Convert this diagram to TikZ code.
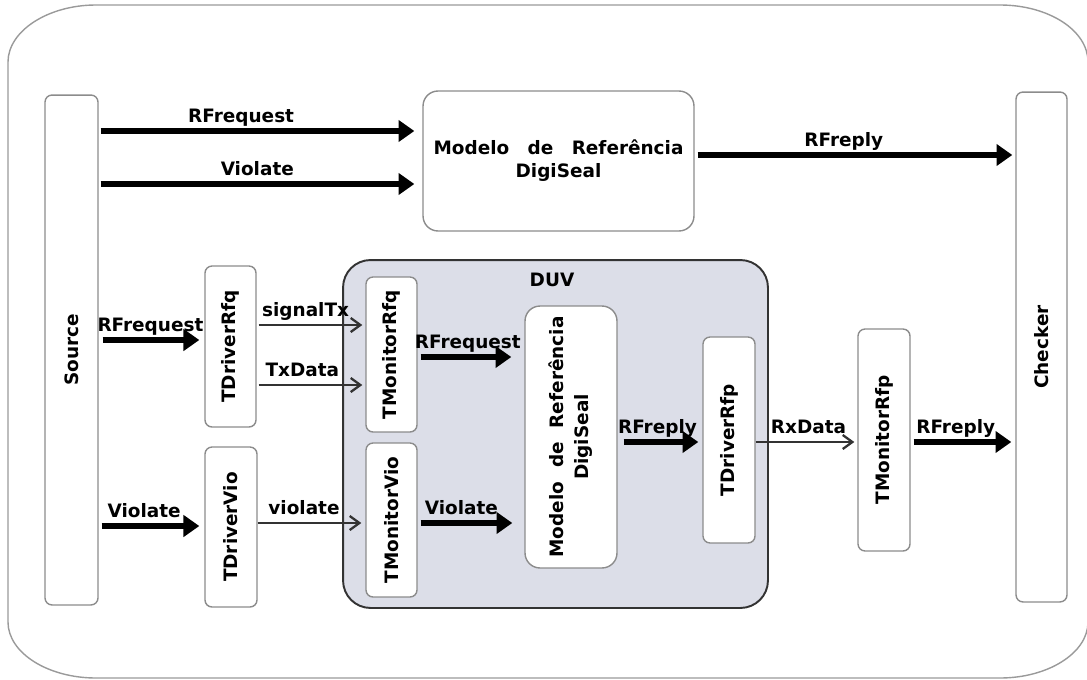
\documentclass[tikz,border=0pt]{standalone}
\usepackage{fontspec}
\setmainfont{DejaVu Sans}
\usetikzlibrary{arrows.meta}
\definecolor{boxline}{HTML}{8C8C8C}
\definecolor{frameline}{HTML}{9A9A9A}
\definecolor{duvfill}{HTML}{DCDEE8}
\definecolor{duvline}{HTML}{333333}
\definecolor{thinline}{HTML}{333333}

\begin{document}
\begin{tikzpicture}[x=0.02cm,y=-0.02cm,
  font=\fontsize{10.5}{13}\selectfont\bfseries,
  box/.style={draw=boxline, line width=0.8pt, fill=white, rounded corners=0.14cm, inner sep=0pt},
  bigarrow/.style={line width=3.6pt, -{Triangle[length=9pt,width=12pt]}},
  thinarrow/.style={draw=thinline, line width=1.3pt, -{Straight Barb[length=5.5pt,width=8pt]}},
  lbl/.style={anchor=base, yshift=5pt, inner sep=0pt},
]
\useasboundingbox (0,0) rectangle (1087,679);

% outer environment frame
\draw[frameline, line width=0.8pt]
  (96,5) -- (1000,5) .. controls (1048,5) and (1088,30) .. (1088,62)
  -- (1088,622) .. controls (1088,653) and (1048,678) .. (1000,678)
  -- (96,678) .. controls (48,678) and (8,653) .. (8,622)
  -- (8,62) .. controls (8,31) and (48,5) .. (96,5) -- cycle;

% DUV container
\node[draw=duvline, line width=1.1pt, fill=duvfill, rounded corners=0.55cm,
      minimum width=8.5cm, minimum height=6.96cm] (duv) at (555.5,434) {};
\node (duvtxt) at (552,280) {DUV};

% blocks
\node[box, minimum width=1.06cm, minimum height=10.2cm] (src) at (71.5,350) {\rotatebox{90}{Source}};
\node[box, minimum width=1.02cm, minimum height=10.2cm] (chk) at (1041.5,347) {\rotatebox{90}{Checker}};
\node[box, rounded corners=0.3cm, minimum width=5.42cm, minimum height=2.8cm, align=center] (refTop) at (558.5,161)
  {\makebox[5cm][s]{Modelo de Referência}\\DigiSeal};
\node[box, minimum width=1.02cm, minimum height=3.22cm] (drvRfq) at (230.5,346.5) {\rotatebox{90}{TDriverRfq}};
\node[box, minimum width=1.04cm, minimum height=3.2cm] (drvVio) at (231,527) {\rotatebox{90}{TDriverVio}};
\node[box, minimum width=1.02cm, minimum height=3.1cm] (monRfq) at (391.5,354.5) {\rotatebox{90}{TMonitorRfq}};
\node[box, minimum width=1.02cm, minimum height=3.08cm] (monVio) at (391.5,520) {\rotatebox{90}{TMonitorVio}};
\node[box, rounded corners=0.3cm, minimum width=1.84cm, minimum height=5.24cm] (refIn) at (571,437)
  {\rotatebox{90}{\fontsize{10.5}{14}\selectfont\begin{tabular}{@{}c@{}}\makebox[4.82cm][s]{Modelo de Referência}\\DigiSeal\end{tabular}}};
\node[box, minimum width=1.04cm, minimum height=4.12cm] (drvRfp) at (729,440) {\rotatebox{90}{TDriverRfp}};
\node[box, minimum width=1.04cm, minimum height=4.44cm] (monRfp) at (884,440) {\rotatebox{90}{TMonitorRfp}};

% arrow rows
\coordinate (rA) at (0,131);
\coordinate (rB) at (0,184);
\coordinate (rC) at (0,155);
\coordinate (rD) at (0,340);
\coordinate (rE) at (0,325);
\coordinate (rF) at (0,385);
\coordinate (rG) at (0,526);
\coordinate (rH) at (0,523);
\coordinate (rI) at (0,357);
\coordinate (rJ) at (0,442);

% connectors
\draw[bigarrow, shorten <=0.04cm, shorten >=0.16cm] (src.east |- rA) -- node[lbl, pos=0.44] (lA) {RFrequest} (refTop.west |- rA);
\draw[bigarrow, shorten <=0.04cm, shorten >=0.16cm] (src.east |- rB) -- node[lbl, pos=0.49] (lB) {Violate} (refTop.west |- rB);
\draw[bigarrow, shorten <=0.06cm, shorten >=0.06cm] (refTop.east |- rC) -- node[lbl, pos=0.465] (lC) {RFreply} (chk.west |- rC);

\draw[bigarrow, shorten <=0.08cm, shorten >=0.1cm] (src.east |- rD) -- node[lbl, pos=0.49] (lD) {RFrequest} (drvRfq.west |- rD);
\draw[thinarrow, shorten <=0.04cm, shorten >=0.06cm] (drvRfq.east |- rE) -- node[lbl, pos=0.45] (lE) {signalTx} (monRfq.west |- rE);
\draw[thinarrow, shorten <=0.04cm, shorten >=0.06cm] (drvRfq.east |- rF) -- node[lbl, pos=0.42] (lF) {TxData} (monRfq.west |- rF);

\draw[bigarrow, shorten <=0.06cm, shorten >=0.1cm] (src.east |- rG) -- node[lbl, pos=0.43] (lG) {Violate} (drvVio.west |- rG);
\draw[thinarrow, shorten >=0.08cm] (drvVio.east |- rH) -- node[lbl, pos=0.43] (lH) {violate} (monVio.west |- rH);

\draw[bigarrow, shorten <=0.06cm, shorten >=0.26cm] (monRfq.east |- rI) -- node[lbl, pos=0.47] (lI) {RFrequest} (refIn.west |- rI);
\draw[bigarrow, shorten <=0.06cm, shorten >=0.24cm] (monVio.east |- rH) -- node[lbl, pos=0.41] (lJ) {Violate} (refIn.west |- rH);

\draw[bigarrow, shorten <=0.12cm, shorten >=0.08cm] (refIn.east |- rJ) -- node[lbl, pos=0.47] (lK) {RFreply} (drvRfp.west |- rJ);
\draw[thinarrow, shorten >=0.06cm] (drvRfp.east |- rJ) -- node[lbl, pos=0.52] (lL) {RxData} (monRfp.west |- rJ);
\draw[bigarrow, shorten <=0.06cm, shorten >=0.08cm] (monRfp.east |- rJ) -- node[lbl, pos=0.43] (lM) {RFreply} (chk.west |- rJ);
\end{tikzpicture}
\end{document}
